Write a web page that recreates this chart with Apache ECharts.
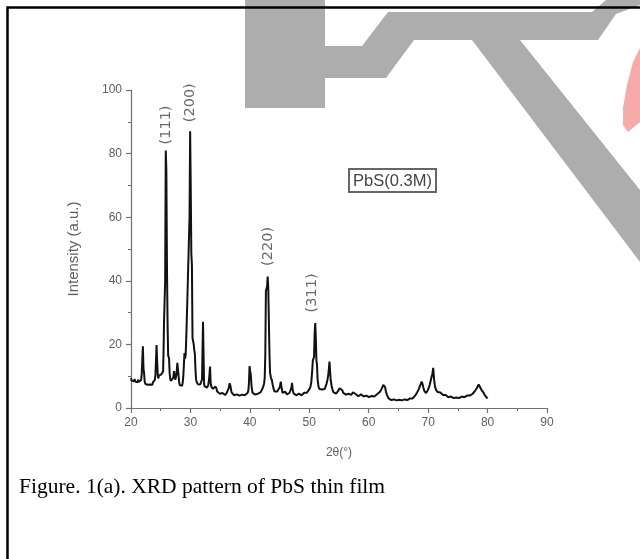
<!DOCTYPE html>
<html>
<head>
<meta charset="utf-8">
<script src="https://cdn.jsdelivr.net/npm/echarts@6/dist/echarts.min.js"></script>
<style>
html,body{margin:0;padding:0;background:#fff;}
#chart{width:640px;height:559px;}
</style>
</head>
<body>
<div id="chart"></div>
<script>
const twoTheta = [
20.0,20.1,20.2,20.3,20.4,20.5,20.6,20.7,20.8,20.9,21.0,21.1,21.2,21.3,21.4,21.5,21.6,21.7,21.8,21.9,
22.0,22.1,22.2,22.3,22.4,22.5,22.6,22.7,22.8,22.9,23.0,23.1,23.2,23.3,23.4,23.5,23.6,23.7,23.8,23.9,
24.0,24.1,24.2,24.3,24.4,24.5,24.6,24.7,24.8,24.9,25.0,25.1,25.2,25.3,25.4,25.5,25.55,25.65,25.75,25.85,
25.95,26.05,26.15,26.25,26.4,26.5,26.6,26.7,26.8,26.9,27.0,27.1,27.25,27.35,27.45,27.55,27.65,27.8,27.9,28.0,
28.1,28.2,28.3,28.4,28.5,28.6,28.7,28.8,28.9,29.0,29.1,29.2,29.3,29.45,29.55,29.7,29.85,29.95,30.05,30.15,
30.25,30.35,30.45,30.55,30.65,30.75,30.85,30.95,31.05,31.15,31.25,31.35,31.45,31.55,31.65,31.75,31.85,31.95,32.05,32.12,
32.2,32.3,32.4,32.5,32.6,32.7,32.8,32.9,33.0,33.1,33.2,33.3,33.4,33.5,33.6,33.7,33.8,33.9,34.0,34.1,
34.2,34.3,34.4,34.5,34.65,34.8,34.95,35.1,35.25,35.4,35.55,35.7,35.85,36.0,36.15,36.3,36.45,36.6,36.75,36.9,
37.05,37.2,37.35,37.5,37.65,37.8,37.95,38.1,38.25,38.4,38.55,38.7,38.85,39.0,39.15,39.3,39.45,39.6,39.75,39.85,
39.95,40.05,40.15,40.3,40.45,40.6,40.75,40.9,41.05,41.2,41.35,41.5,41.65,41.8,41.95,42.1,42.25,42.4,42.5,42.6,
42.7,42.8,42.9,43.0,43.1,43.2,43.3,43.4,43.55,43.7,43.85,44.0,44.15,44.3,44.45,44.6,44.75,44.9,45.05,45.2,
45.35,45.5,45.65,45.8,45.95,46.1,46.25,46.4,46.55,46.7,46.85,47.0,47.1,47.2,47.35,47.5,47.65,47.8,47.95,48.1,
48.25,48.4,48.55,48.7,48.85,49.0,49.15,49.3,49.45,49.6,49.75,49.9,50.05,50.2,50.35,50.5,50.6,50.7,50.8,50.9,
51.0,51.1,51.2,51.3,51.4,51.55,51.7,51.85,52.0,52.15,52.3,52.45,52.6,52.75,52.9,53.05,53.2,53.3,53.4,53.5,
53.6,53.75,53.9,54.05,54.2,54.35,54.5,54.65,54.8,54.95,55.1,55.25,55.4,55.55,55.7,55.85,56.0,56.15,56.3,56.45,
56.6,56.75,56.9,57.05,57.2,57.35,57.5,57.65,57.8,57.95,58.1,58.25,58.4,58.55,58.7,58.85,59.0,59.15,59.3,59.45,
59.6,59.75,59.9,60.05,60.2,60.35,60.5,60.65,60.8,60.95,61.1,61.25,61.4,61.55,61.7,61.85,62.0,62.15,62.3,62.45,
62.6,62.75,62.9,63.05,63.2,63.35,63.5,63.65,63.8,63.95,64.1,64.25,64.4,64.55,64.7,64.85,65.0,65.15,65.3,65.45,
65.6,65.75,65.9,66.05,66.2,66.35,66.5,66.65,66.8,66.95,67.1,67.25,67.4,67.55,67.7,67.85,68.0,68.15,68.3,68.45,
68.6,68.75,68.9,69.05,69.2,69.35,69.5,69.65,69.8,69.95,70.1,70.25,70.4,70.55,70.7,70.85,71.0,71.15,71.3,71.45,
71.6,71.75,71.9,72.05,72.2,72.35,72.5,72.65,72.8,72.95,73.1,73.25,73.4,73.55,73.7,73.85,74.0,74.15,74.3,74.45,
74.6,74.75,74.9,75.05,75.2,75.35,75.5,75.65,75.8,75.95,76.1,76.25,76.4,76.55,76.7,76.85,77.0,77.15,77.3,77.45,
77.6,77.75,77.9,78.05,78.2,78.35,78.5,78.65,78.8,78.95,79.1,79.25,79.4,79.55,79.7,79.85,80.0
];
const intensity = [
9.4,8.6,9.0,8.2,8.8,8.4,9.1,8.3,8.7,8.0,8.6,8.1,8.9,8.2,8.5,7.9,8.6,8.8,10.5,15.0,
19.4,12.5,11.0,8.4,7.6,8.1,7.4,7.9,7.3,7.8,7.2,7.7,7.4,8.0,7.5,7.9,7.3,8.1,7.6,8.2,
8.8,10.0,14.5,19.8,14.6,10.5,9.3,10.2,9.6,10.4,9.8,10.6,10.0,10.8,11.5,20.0,26.7,27.0,40.0,81.0,
74.5,45.0,27.0,16.5,15.7,11.0,9.2,8.5,9.0,8.3,8.8,9.5,11.6,10.0,8.9,9.4,10.5,14.2,12.2,11.6,
8.2,7.2,7.8,6.9,7.5,7.0,8.0,10.0,13.5,17.3,15.5,16.8,22.0,31.9,32.0,31.5,60.0,87.0,70.0,48.5,
45.0,22.0,21.5,20.0,18.2,17.0,12.0,9.0,8.2,8.8,7.5,7.0,7.6,7.1,7.4,6.8,7.2,9.0,20.0,27.1,
18.0,7.5,6.8,7.3,6.6,7.0,6.4,6.9,7.2,8.5,10.5,13.0,8.0,6.7,6.2,6.6,6.0,5.8,6.4,6.0,
6.8,7.2,6.0,5.2,5.6,4.8,4.5,4.9,4.3,4.7,4.2,4.6,4.1,4.5,4.9,5.5,6.3,7.8,6.8,5.0,
4.4,4.7,4.0,4.4,3.9,4.3,3.8,4.4,3.9,4.3,3.8,4.2,3.9,4.4,4.0,4.5,4.1,4.7,5.5,8.0,
13.2,11.5,10.6,6.5,4.8,4.3,4.7,4.2,4.6,4.1,4.5,4.0,4.6,4.9,5.4,6.0,6.7,7.8,9.5,17.0,
36.9,37.5,38.2,41.3,37.5,37.0,17.0,11.0,9.5,8.8,7.2,6.0,5.2,5.0,4.8,5.2,5.4,5.8,6.6,8.3,
6.2,4.8,4.5,4.9,5.1,4.6,4.3,4.7,4.3,4.8,5.3,6.5,7.9,5.8,4.6,4.2,4.5,4.0,4.6,4.1,
4.5,3.9,4.4,4.0,4.6,4.2,4.8,4.5,5.0,4.8,5.2,5.4,6.0,6.7,8.3,12.0,15.0,15.5,16.0,23.5,
26.7,22.0,15.0,13.5,9.0,6.7,6.0,6.3,5.5,5.8,5.2,5.6,6.0,6.8,7.6,8.8,10.5,12.5,14.6,11.5,
8.8,7.0,5.8,5.0,4.6,5.0,4.5,4.9,5.2,5.8,6.2,6.5,6.7,5.6,4.8,4.4,4.8,4.2,4.6,4.2,
4.5,4.0,4.4,4.1,4.6,4.9,5.2,5.0,4.4,3.9,4.3,3.7,4.1,3.8,4.3,3.9,4.1,3.6,4.0,3.5,
3.9,3.5,3.8,3.4,3.9,3.5,3.8,3.4,3.9,3.6,3.7,4.0,4.3,4.6,4.5,5.0,5.4,5.9,6.6,7.3,
7.8,6.6,5.2,4.2,3.6,3.0,2.7,2.9,2.5,2.8,2.4,2.7,2.3,2.6,2.4,2.7,2.3,2.6,2.4,2.7,
2.4,2.8,2.5,2.7,2.4,2.8,2.5,2.9,2.6,3.0,2.8,3.2,3.0,3.3,3.6,4.0,4.4,4.9,5.4,6.0,
6.8,7.5,8.3,7.6,6.4,5.4,4.8,4.7,5.1,5.6,6.3,7.2,8.3,9.6,10.5,12.6,9.0,6.8,5.8,5.3,
5.0,5.2,4.7,4.9,4.4,4.6,4.1,4.4,3.9,4.1,3.6,3.9,3.4,3.7,3.3,3.6,3.2,3.5,3.1,3.4,
3.0,3.3,3.0,3.4,3.1,3.5,3.2,3.6,3.3,3.7,3.4,3.8,3.5,3.9,3.7,4.0,3.9,4.0,4.1,4.4,
4.7,5.0,5.4,5.7,6.3,6.9,7.4,7.9,7.0,5.8,5.2,5.0,4.5,4.0,3.6,3.3,3.0
];
const xTicks = [20, 30, 40, 50, 60, 70, 80, 90];
const yTicks = [0, 20, 40, 60, 80, 100];
const peakLabels = ['(111)', '(200)', '(220)', '(311)'];
const peakTheta = [25.99, 29.95, 43.1, 50.5];
const labelHeight = [89, 96, 50.8, 36.2];
const sampleName = 'PbS(0.3M)';
const xName = '2\u03b8(\u00b0)';
const yName = 'Intensity (a.u.)';
const caption = 'Figure. 1(a). XRD pattern of PbS thin film';

const chart = echarts.init(document.getElementById('chart'), null, {renderer: 'canvas'});
const axisCol = '#707070';
const txtCol = '#606060';
const lineData = twoTheta.map((t, i) => [t, intensity[i]]);
const labelData = peakTheta.map((t, i) => [t, labelHeight[i], peakLabels[i]]);

const axisCommon = {
  axisLine: {show: true, lineStyle: {color: axisCol, width: 1.2}},
  axisTick: {show: true, inside: false, length: 5, lineStyle: {color: axisCol, width: 1.2}},
  minorTick: {show: true, splitNumber: 2, length: 3, lineStyle: {color: axisCol, width: 1}},
  splitLine: {show: false},
  axisLabel: {color: txtCol, fontSize: 12, fontFamily: 'Liberation Sans'},
  nameTextStyle: {color: txtCol, fontSize: 12, fontFamily: 'Liberation Sans'}
};

chart.setOption({
  animation: false,
  backgroundColor: '#fff',
  grid: {left: 131, top: 90, right: 93, bottom: 151, containLabel: false},
  xAxis: Object.assign({}, axisCommon, {
    type: 'value', min: xTicks[0], max: xTicks[xTicks.length - 1], interval: 10,
    name: xName, nameLocation: 'middle', nameGap: 39,
    axisLabel: Object.assign({}, axisCommon.axisLabel, {margin: 9})
  }),
  yAxis: Object.assign({}, axisCommon, {
    type: 'value', min: yTicks[0], max: yTicks[yTicks.length - 1], interval: 20,
    name: yName, nameLocation: 'middle', nameGap: 50, nameRotate: 90,
    axisLabel: Object.assign({}, axisCommon.axisLabel, {margin: 9}),
    nameTextStyle: {color: txtCol, fontSize: 15, fontFamily: 'Liberation Sans'}
  }),
  graphic: [
    {type: 'polygon', z: -10, silent: true,
     shape: {points: [[245,0],[325,0],[325,46],[362,46],[388,12],[592,12],[606,0],[640,0],[640,5],[616,14],[598,40],[520,40],[640,190],[640,262],[472,40],[414,40],[386,78],[325,78],[325,108],[245,108]]},
     style: {fill: '#adadad'}},
    {type: 'polygon', z: -10, silent: true,
     shape: {points: [[640,48],[633,62],[627,85],[623,108],[623,125],[628,132],[640,122]]},
     style: {fill: '#f6aaaa'}},
    {type: 'rect', z: 10, silent: true,
     shape: {x: 7.5, y: 7.5, width: 1000, height: 1000},
     style: {fill: 'none', stroke: '#000', lineWidth: 2.5}},
    {type: 'rect', z: 10, silent: true,
     shape: {x: 349, y: 169, width: 87, height: 23},
     style: {fill: '#fff', stroke: '#666', lineWidth: 2}},
    {type: 'text', z: 11, silent: true, x: 392.5, y: 181,
     style: {text: sampleName, fill: '#444', font: '16.5px "Liberation Sans"', textAlign: 'center', textVerticalAlign: 'middle'}},
    {type: 'text', z: 11, silent: true, x: 19, y: 487,
     style: {text: caption, fill: '#000', font: '21.5px "Liberation Serif"', textAlign: 'left', textVerticalAlign: 'middle'}}
  ],
  series: [
    {type: 'line', data: lineData, showSymbol: false, symbol: 'none', smooth: false,
     lineStyle: {color: '#111', width: 2}, z: 3},
    {type: 'scatter', data: labelData, symbolSize: 0, z: 4,
     label: {show: true, position: 'inside', rotate: 90, formatter: p => p.data[2],
             color: '#444', fontSize: 14.5, fontFamily: 'DejaVu Sans'}}
  ]
});
</script>
</body>
</html>
